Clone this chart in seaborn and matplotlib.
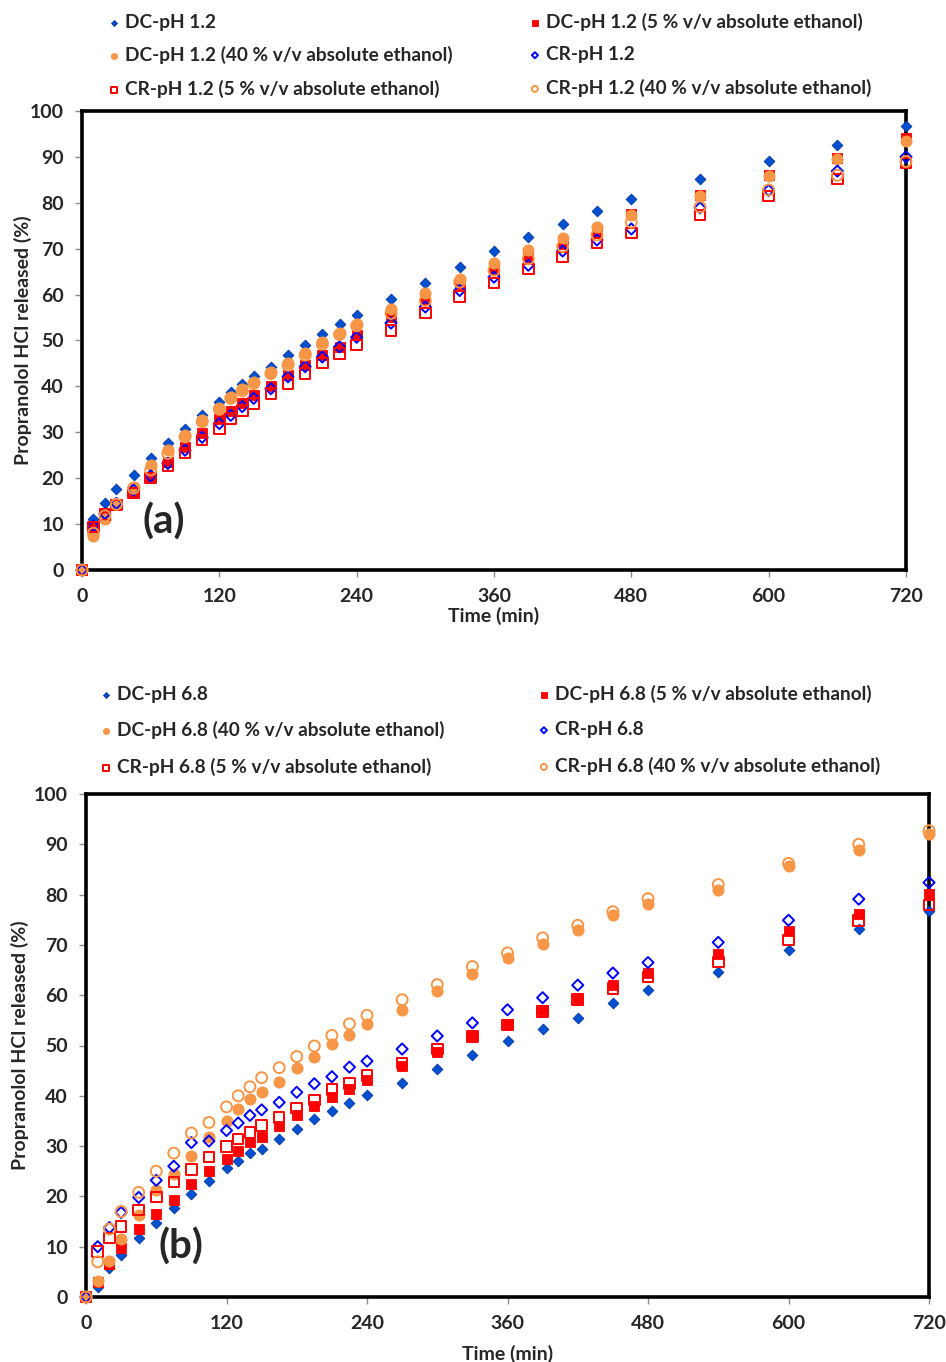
import matplotlib
matplotlib.use("Agg")
import matplotlib.pyplot as plt
import pandas as pd
import seaborn as sns

# %%
##### DATA #####
################

time_min = [0, 10, 20, 30, 45, 60, 75, 90, 105, 120, 130, 140, 150, 165, 180, 195,
            210, 225, 240, 270, 300, 330, 360, 390, 420, 450, 480, 540, 600, 660, 720]

# pH 1.2
dc_12 = [0, 11.2, 14.5, 17.6, 20.7, 24.3, 27.7, 30.8, 33.7, 36.6, 38.8, 40.5, 42.2, 44.3, 46.8, 49.0,
         51.4, 53.6, 55.5, 59.0, 62.5, 66.0, 69.5, 72.5, 75.4, 78.3, 80.9, 85.1, 89.0, 92.7, 96.7]
dc_12_eth5 = [0, 9.6, 12.3, 14.3, 16.8, 20.3, 23.6, 26.9, 29.8, 32.8, 34.7, 36.4, 38.1, 40.1, 42.5, 44.6,
              46.8, 48.6, 51.2, 55.2, 58.9, 62.4, 65.4, 68.0, 71.1, 73.6, 77.6, 81.6, 86.0, 89.8, 94.2]
dc_12_eth40 = [0, 7.3, 11.2, 14.3, 18.1, 22.9, 26.1, 29.4, 32.7, 35.4, 37.7, 39.4, 41.0, 43.2, 45.0, 47.2,
               49.6, 51.7, 53.6, 56.9, 60.3, 63.4, 66.9, 69.8, 72.3, 74.7, 77.3, 81.4, 85.8, 89.6, 93.5]
cr_12 = [0, 9.6, 12.3, 14.5, 17.4, 20.5, 23.2, 26.1, 28.9, 31.9, 33.7, 35.6, 37.4, 39.5, 42.1, 44.3,
         46.4, 48.6, 50.7, 53.8, 57.3, 60.9, 63.8, 66.4, 69.5, 71.9, 74.3, 78.9, 82.7, 86.9, 90.0]
cr_12_eth5 = [0, 9.4, 12.1, 14.2, 16.8, 20.0, 22.7, 25.5, 28.3, 30.8, 33.0, 34.7, 36.3, 38.5, 40.6, 42.8,
              45.1, 47.2, 49.0, 52.2, 56.0, 59.6, 62.5, 65.6, 68.2, 71.2, 73.4, 77.3, 81.5, 85.2, 88.7]
cr_12_eth40 = [0, 8.0, 11.8, 14.3, 17.8, 21.8, 25.4, 29.0, 32.3, 35.0, 37.4, 39.0, 40.6, 42.8, 44.6, 46.8,
               49.2, 51.3, 53.2, 55.9, 58.7, 62.7, 65.3, 67.8, 70.5, 73.0, 75.8, 79.1, 82.8, 86.0, 89.0]

# pH 6.8
dc_68 = [0, 1.9, 5.7, 8.4, 11.8, 14.7, 17.7, 20.5, 23.1, 25.6, 27.0, 28.6, 29.4, 31.5, 33.4, 35.4,
         36.9, 38.5, 40.2, 42.6, 45.4, 48.2, 50.8, 53.2, 55.4, 58.4, 61.0, 64.6, 68.9, 73.1, 76.8]
dc_68_eth5 = [0, 2.9, 6.6, 9.7, 13.5, 16.6, 19.3, 22.4, 25.1, 27.4, 29.1, 30.9, 31.9, 33.9, 36.1, 37.9,
              39.7, 41.4, 43.2, 46.0, 48.7, 51.8, 54.3, 57.0, 59.2, 62.1, 64.5, 68.1, 72.7, 76.1, 80.1]
dc_68_eth40 = [0, 3.1, 7.2, 11.5, 16.3, 21.2, 24.4, 28.1, 31.9, 34.9, 37.3, 39.4, 40.7, 42.8, 45.6, 47.8,
               50.3, 52.1, 54.3, 57.0, 60.8, 64.3, 67.4, 70.1, 72.9, 75.9, 78.2, 81.0, 85.7, 88.8, 92.0]
cr_68 = [0, 10.0, 13.8, 16.8, 19.8, 23.2, 26.0, 30.7, 31.0, 33.1, 34.6, 36.1, 37.2, 38.7, 40.7, 42.4,
         43.8, 45.7, 46.9, 49.3, 51.9, 54.5, 57.1, 59.5, 62.0, 64.4, 66.5, 70.5, 74.9, 79.1, 82.4]
cr_68_eth5 = [0, 9.0, 11.7, 14.0, 17.3, 19.9, 22.9, 25.3, 27.8, 29.9, 31.4, 32.7, 34.1, 35.7, 37.6, 39.2,
              41.2, 42.4, 44.0, 46.5, 49.3, 51.8, 54.1, 56.8, 59.2, 61.3, 63.6, 66.6, 71.0, 74.9, 77.9]
cr_68_eth40 = [0, 7.0, 13.5, 17.0, 20.8, 25.0, 28.6, 32.6, 34.7, 37.8, 40.0, 41.8, 43.6, 45.6, 47.8, 49.9,
               52.0, 54.3, 56.0, 59.1, 62.1, 65.7, 68.4, 71.4, 73.9, 76.6, 79.2, 82.0, 86.2, 90.0, 92.7]

series_suffix = ["", " (5 % v/v absolute ethanol)", " (40 % v/v absolute ethanol)",
                 "", " (5 % v/v absolute ethanol)", " (40 % v/v absolute ethanol)"]
series_prefix = ["DC", "DC", "DC", "CR", "CR", "CR"]

panel_a = [dc_12, dc_12_eth5, dc_12_eth40, cr_12, cr_12_eth5, cr_12_eth40]
panel_b = [dc_68, dc_68_eth5, dc_68_eth40, cr_68, cr_68_eth5, cr_68_eth40]

# marker, facecolor, edgecolor, size
blue = "#0050D0"
red = "#FF0000"
orange = "#F79646"
styles = [
    ("D", blue, "#0033A0", 30),
    ("s", red, red, 55),
    ("o", orange, orange, 65),
    ("D", "none", "#0000FF", 32),
    ("s", "none", red, 58),
    ("o", "none", orange, 62),
]

# %%
##### PLOT #####
################

sns.set_style("ticks")
plt.rcParams["font.family"] = ["Lato", "DejaVu Sans"]
plt.rcParams["font.weight"] = "bold"

fig = plt.figure(figsize=(9.46, 13.62), dpi=100)

ax_a = fig.add_axes([82 / 946, 1 - 570 / 1362, 824 / 946, 459 / 1362])
ax_b = fig.add_axes([86 / 946, 1 - 1297 / 1362, 843 / 946, 503 / 1362])


def draw_panel(ax, values, ph, tag, tag_xy, leg_anchor, leg_spacing, leg_rows,
               ylab_x, xlab_pad):
    for i, y in enumerate(values):
        marker, face, edge, size = styles[i]
        df = pd.DataFrame({"time": time_min, "released": y})
        sns.scatterplot(
            data=df,
            x="time",
            y="released",
            marker=marker,
            color=edge,
            facecolor=face,
            edgecolor=edge,
            linewidth=1.4 if face == "none" else 0.6,
            s=size,
            ax=ax,
            clip_on=False,
            zorder=3 + i,
            label=f"{series_prefix[i]}-pH {ph}{series_suffix[i]}",
        )
    handles, labels = ax.get_legend_handles_labels()
    if ax.get_legend() is not None:
        ax.get_legend().remove()
    # legend reads row by row: DC, DC 5% / DC 40%, CR / CR 5%, CR 40%
    order = [0, 2, 4, 1, 3, 5]
    fig.legend(
        [handles[k] for k in order],
        [labels[k] for k in order],
        ncol=2,
        loc="upper left",
        bbox_to_anchor=leg_anchor,
        frameon=False,
        prop={"weight": "bold", "size": 13.7},
        markerscale=0.55,
        handletextpad=0.1,
        handlelength=1.0,
        columnspacing=leg_spacing,
        labelspacing=leg_rows,
        borderpad=0,
    )

    ax.set_xlim(0, 720)
    ax.set_ylim(0, 100)
    ax.set_xticks(range(0, 721, 120))
    ax.set_yticks(range(0, 101, 10))
    ax.tick_params(direction="out", length=5, width=1, color="#8c8c8c",
                   labelsize=14, pad=8)
    for lab in ax.get_xticklabels() + ax.get_yticklabels():
        lab.set_fontweight("bold")
    for sp in ax.spines.values():
        sp.set_visible(True)
        sp.set_linewidth(2.6)
        sp.set_color("black")
        sp.set_zorder(2)
    ax.set_xlabel("Time (min)", fontsize=14, fontweight="bold", labelpad=xlab_pad)
    ax.set_ylabel("Propranolol HCl released (%)", fontsize=14, fontweight="bold")
    ax.yaxis.set_label_coords(ylab_x, 0.5)
    ax.text(tag_xy[0], tag_xy[1], tag, fontsize=29, fontweight="bold",
            ha="center", va="center")


draw_panel(ax_a, panel_a, "1.2", "(a)", (71, 10.5), (95 / 946, 1 - 3 / 1362), 3.8, 0.82,
           (32 - 82) / 824, 1)
draw_panel(ax_b, panel_b, "6.8", "(b)", (81, 10), (87 / 946, 1 - 675 / 1362), 4.7, 0.98,
           (29 - 86) / 843, 9)

plt.savefig("out.png", dpi=100)
